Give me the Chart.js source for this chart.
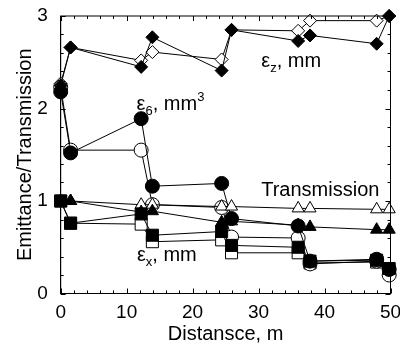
<!DOCTYPE html>
<html><head><meta charset="utf-8">
<script src="https://cdn.jsdelivr.net/npm/chart.js@4"></script>
<style>html,body{margin:0;padding:0;background:#fff}canvas{display:block}</style>
</head><body>
<canvas id="c" width="400" height="348"></canvas>
<script>
// Distance along the channel, m
const distance = [0, 1.5, 12.2, 13.9, 24.4, 25.9, 36.0, 37.8, 47.9, 49.8];

// Longitudinal emittance eps_z, mm
const ezFilled = [2.25, 2.66, 2.45, 2.77, 2.41, 2.85, 2.73, 2.79, 2.70, 3.00];
const ezOpen   = [2.27, 2.66, 2.52, 2.61, 2.53, 2.85, 2.84, 2.95, 2.95, 3.00];
// 6D emittance eps_6, mm^3
const e6Filled = [2.18, 1.52, 1.89, 1.16, 1.19, 0.81, 0.73, 0.35, 0.37, 0.26];
const e6Open   = [2.23, 1.55, 1.55, 0.96, 0.93, 0.61, 0.60, 0.32, 0.35, 0.20];
// Transmission
const trFilled = [1.00, 1.00, 0.88, 0.89, 0.77, 0.78, 0.74, 0.72, 0.69, 0.69];
const trOpen   = [1.00, 1.00, 0.96, 0.96, 0.94, 0.94, 0.92, 0.92, 0.91, 0.91];
// Transverse emittance eps_x, mm
const exFilled = [1.00, 0.76, 0.86, 0.63, 0.67, 0.52, 0.50, 0.35, 0.36, 0.27];
const exOpen   = [1.00, 0.76, 0.75, 0.56, 0.58, 0.44, 0.44, 0.33, 0.34, 0.24];

const xTicks = [0, 10, 20, 30, 40, 50];
const yTicks = [0, 1, 2, 3];

const FONT = "'Liberation Sans', Arial, sans-serif";

function series(vals, style, filled, radius) {
  return {
    data: vals.map((v, i) => ({x: distance[i], y: v})),
    borderColor: '#000', borderWidth: 1,
    pointStyle: style, pointRadius: radius, pointHoverRadius: radius,
    pointBackgroundColor: filled ? '#000' : '#fff',
    pointBorderColor: '#000', pointBorderWidth: 1,
    tension: 0, fill: false, clip: false
  };
}

const ticksPlugin = {
  id: 'frameTicks',
  afterDraw(chart) {
    const {ctx, chartArea: a, scales: {x, y}} = chart;
    ctx.save();
    ctx.strokeStyle = '#000'; ctx.lineWidth = 1;
    ctx.strokeRect(a.left, a.top, a.right - a.left, a.bottom - a.top);
    ctx.beginPath();
    for (let v = 0; v <= 50.001; v += 2) {
      const px = Math.round(x.getPixelForValue(v)) + 0.5;
      const len = (Math.abs(v % 10) < 1e-6) ? 5 : 3;
      ctx.moveTo(px, a.bottom); ctx.lineTo(px, a.bottom - len);
      ctx.moveTo(px, a.top); ctx.lineTo(px, a.top + len);
    }
    for (let k = 0; k <= 15; k++) {
      const v = k * 0.2;
      const py = Math.round(y.getPixelForValue(v)) + 0.5;
      const len = (k % 5 === 0) ? 5 : 3;
      ctx.moveTo(a.left, py); ctx.lineTo(a.left + len, py);
      ctx.moveTo(a.right, py); ctx.lineTo(a.right - len, py);
    }
    ctx.stroke();
    ctx.restore();
  }
};

const labels = [
  {x: 30.4, y: 2.45, parts: [['ε', 0], ['z', 1], [', mm', 0]]},
  {x: 11.5, y: 1.98, parts: [['ε', 0], ['6', 1], [', mm', 0], ['3', -1]]},
  {x: 30.4, y: 1.057, parts: [['Transmission', 0]]},
  {x: 11.55, y: 0.35, parts: [['ε', 0], ['x', 1], [', mm', 0]]}
];

const labelPlugin = {
  id: 'labels',
  afterDraw(chart) {
    const {ctx, scales: {x, y}} = chart;
    ctx.save();
    ctx.fillStyle = '#000';
    ctx.textBaseline = 'alphabetic';
    ctx.textAlign = 'left';
    for (const l of labels) {
      let px = x.getPixelForValue(l.x);
      const py = y.getPixelForValue(l.y);
      for (const [t, s] of l.parts) {
        ctx.font = (s === 0 ? '20px ' : '13px ') + FONT;
        const dy = s === 1 ? 5 : (s === -1 ? -9 : 0);
        ctx.fillText(t, px, py + dy);
        px += ctx.measureText(t).width;
      }
    }
    ctx.restore();
  }
};

new Chart(document.getElementById('c'), {
  type: 'line',
  data: {
    datasets: [
      series(exFilled, 'rect', true, 8.5),
      series(trFilled, 'triangle', true, 7),
      series(trOpen, 'triangle', false, 7),
      series(e6Filled, 'circle', true, 7),
      series(e6Open, 'circle', false, 7),
      series(exOpen, 'rect', false, 8.5),
      series(ezFilled, 'rectRot', true, 6.5),
      series(ezOpen, 'rectRot', false, 6.5)
    ].map((d, i) => (i === 6 ? Object.assign(d, {order: -1}) : d))
  },
  options: {
    responsive: false,
    animation: false,
    devicePixelRatio: 1,
    layout: {padding: {top: 16, right: 3.3, left: 0, bottom: 0}},
    plugins: {legend: {display: false}, tooltip: {enabled: false}},
    scales: {
      x: {
        type: 'linear', min: 0, max: 50,
        afterFit: s => { s.height = 54.5; s.paddingLeft = 0; s.paddingRight = 0; },
        afterBuildTicks: s => { s.ticks = xTicks.map(v => ({value: v})); },
        grid: {display: false, drawTicks: false},
        border: {display: true, color: '#000', width: 1},
        ticks: {color: '#000', font: {family: FONT, size: 19}, padding: 8, maxRotation: 0},
        title: {display: true, text: 'Distansce, m', color: '#000',
                font: {family: FONT, size: 20}, padding: {top: 0, bottom: 1.5}}
      },
      y: {
        type: 'linear', min: 0, max: 3,
        afterFit: s => { s.width = 60.7; s.paddingTop = 0; s.paddingBottom = 0; },
        afterBuildTicks: s => { s.ticks = yTicks.map(v => ({value: v})); },
        grid: {display: false, drawTicks: false},
        border: {display: true, color: '#000', width: 1},
        ticks: {color: '#000', font: {family: FONT, size: 19}, padding: 13},
        title: {display: true, text: 'Emittance/Transmission', color: '#000',
                font: {family: FONT, size: 20}, padding: {top: 13, bottom: 0}}
      }
    }
  },
  plugins: [ticksPlugin, labelPlugin]
});
</script>
</body></html>
